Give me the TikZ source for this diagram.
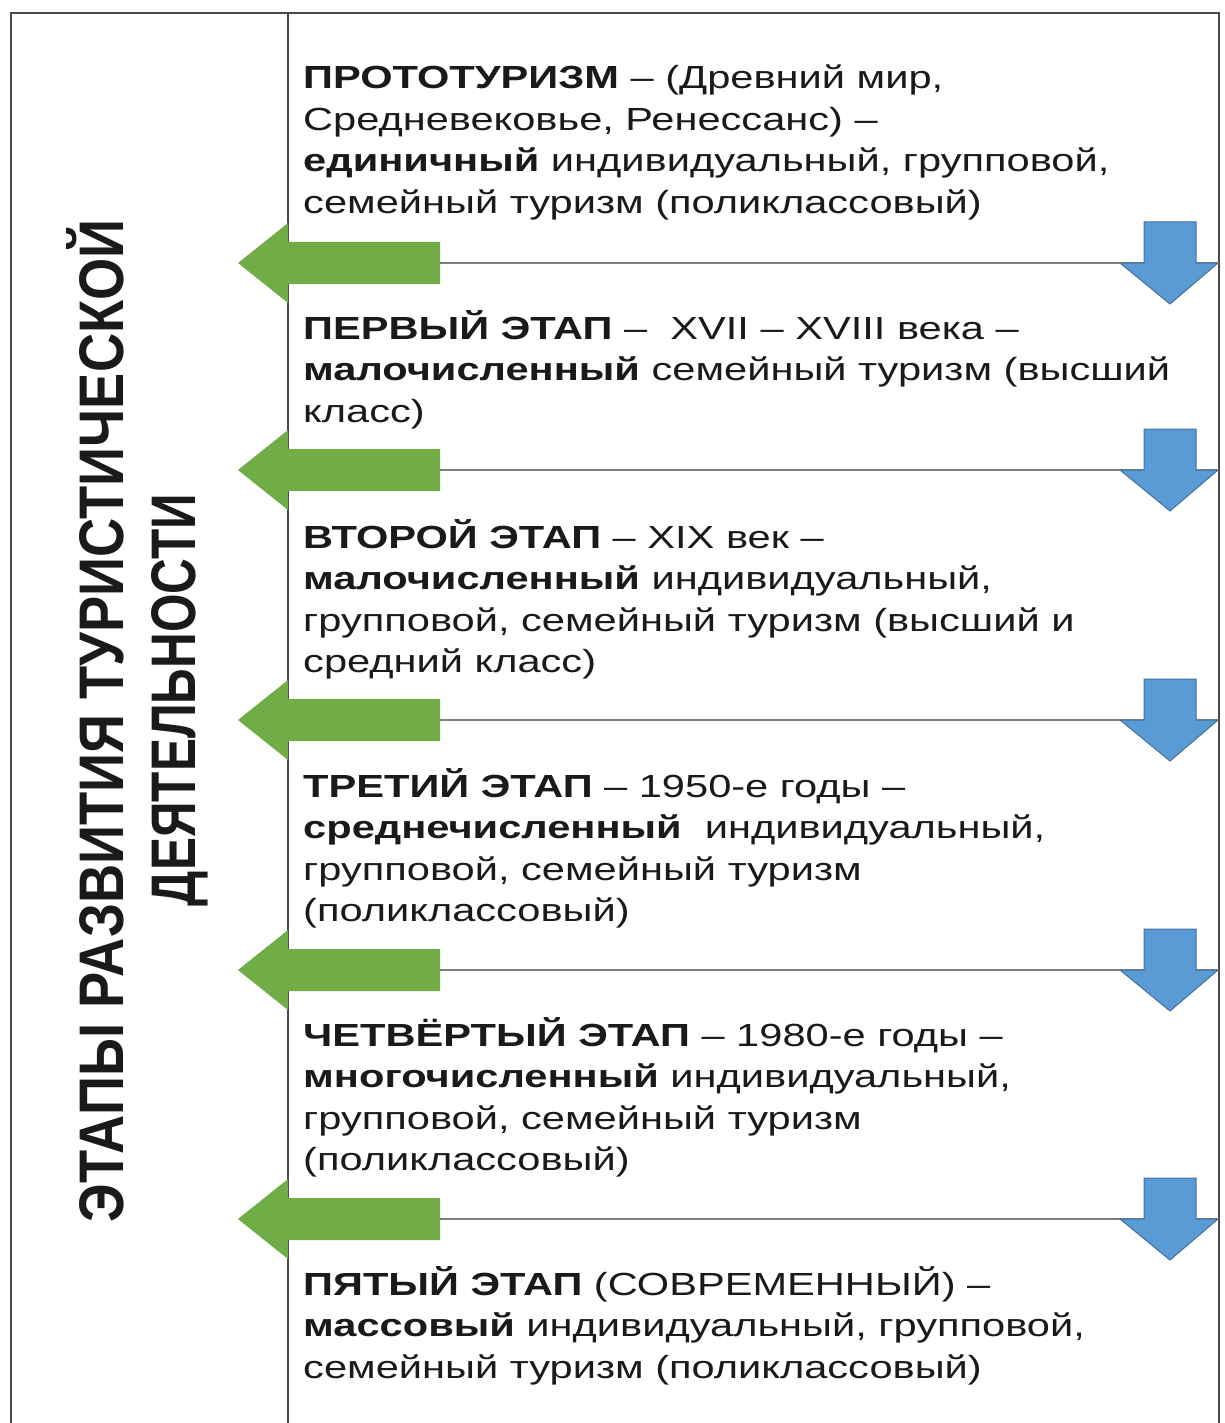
\documentclass[tikz,border=0pt]{standalone}
\usepackage{fontspec}
\setmainfont{Liberation Sans}
\definecolor{txt}{HTML}{1A1A1A}
\definecolor{grn}{HTML}{70AD47}
\definecolor{blu}{HTML}{5B9BD5}
\definecolor{bluedge}{HTML}{41719C}
\definecolor{frame}{HTML}{4A4A4A}
\definecolor{sep}{HTML}{7F7F7F}
\tikzset{
  stagetext/.style={anchor=base west, inner sep=0pt, text=txt},
  titletext/.style={rotate=90, anchor=base, inner sep=0pt, text=txt},
  sepline/.style={draw=sep, line width=2pt},
  framel/.style={draw=frame, line width=2.2pt},
  grnarrow/.style={fill=grn, draw=none},
  bluarrow/.style={fill=blu, draw=bluedge, line width=1pt, line join=miter},
}
\newcommand{\stagebox}[1]{\scalebox{1.3}[1]{\parbox[t]{700pt}{\raggedright\fontsize{32}{41.5}\selectfont #1}}}
\newcommand{\greenarrow}[1]{%
  \fill[grnarrow] (238,#1) -- (288,#1-40) -- (288,#1-21) -- (440,#1-21) -- (440,#1+21) -- (288,#1+21) -- (288,#1+40) -- cycle;}
\newcommand{\bluearrow}[1]{%
  \filldraw[bluarrow] (1144,#1-41) -- (1196,#1-41) -- (1196,#1) -- (1218,#1) -- (1170,#1+41) -- (1120,#1) -- (1144,#1) -- cycle;}
\begin{document}
\begin{tikzpicture}[x=1pt,y=-1pt]
\useasboundingbox (0,0) rectangle (1224,1423);
\fill[white] (0,0) rectangle (1224,1423);

% frame
\coordinate (tl) at (11,13);
\coordinate (tr) at (1219,13);
\coordinate (bl) at (11,1423);
\coordinate (br) at (1219,1423);
\coordinate (dt) at (288,13);
\coordinate (db) at (288,1423);
\draw[framel] (bl) -- (tl) -- (tr) -- (br);
\draw[framel] (dt) -- (db);

% separators
\foreach \yy in {263,470,720,970,1219} {
  \draw[sepline] (288,\yy) -- (1219,\yy);
}
% arrows
\foreach \yy in {263,470,720,970,1219} {
  \greenarrow{\yy}
  \bluearrow{\yy}
}

% vertical title
\node[titletext] (t1) at (123,721)
  {\resizebox{1003pt}{\height}{\fontsize{63}{70}\selectfont\bfseries ЭТАПЫ РАЗВИТИЯ ТУРИСТИЧЕСКОЙ}};
\node[titletext] (t2) at (195,700)
  {\resizebox{412pt}{\height}{\fontsize{63}{70}\selectfont\bfseries ДЕЯТЕЛЬНОСТИ}};

% stage texts
\node[stagetext] (s0) at (303,89) {\stagebox{\textbf{ПРОТОТУРИЗМ} – (Древний мир,\\ Средневековье, Ренессанс) –\\ \textbf{единичный} индивидуальный, групповой,\\ семейный туризм (поликлассовый)}};
\node[stagetext] (s1) at (303,339) {\stagebox{\textbf{ПЕРВЫЙ ЭТАП} –\ \ XVII – XVIII века –\\ \textbf{малочисленный} семейный туризм (высший\\ класс)}};
\node[stagetext] (s2) at (303,548) {\stagebox{\textbf{ВТОРОЙ ЭТАП} – XIX век –\\ \textbf{малочисленный} индивидуальный,\\ групповой, семейный туризм (высший и\\ средний класс)}};
\node[stagetext] (s3) at (303,797) {\stagebox{\textbf{ТРЕТИЙ ЭТАП} – 1950-е годы –\\ \textbf{среднечисленный}\ \ индивидуальный,\\ групповой, семейный туризм\\ (поликлассовый)}};
\node[stagetext] (s4) at (303,1046) {\stagebox{\textbf{ЧЕТВЁРТЫЙ ЭТАП} – 1980-е годы –\\ \textbf{многочисленный} индивидуальный,\\ групповой, семейный туризм\\ (поликлассовый)}};
\node[stagetext] (s5) at (303,1295) {\stagebox{\textbf{ПЯТЫЙ ЭТАП} (СОВРЕМЕННЫЙ) –\\ \textbf{массовый} индивидуальный, групповой,\\ семейный туризм (поликлассовый)}};
\end{tikzpicture}
\end{document}
